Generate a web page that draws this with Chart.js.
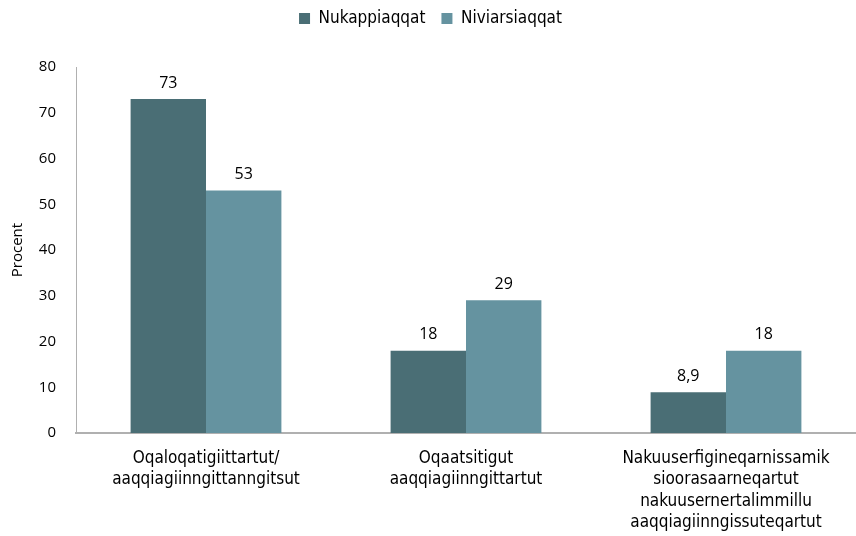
<!DOCTYPE html>
<html>
<head>
<meta charset="utf-8">
<script src="https://cdn.jsdelivr.net/npm/chart.js@4"></script>
<style>
  html, body { margin: 0; padding: 0; background: #fff; }
  #wrap { width: 856px; height: 536px; }
</style>
</head>
<body>
<div id="wrap"><canvas id="myChart"></canvas></div>
<script>
'use strict';

var categories = [
  ['Oqaloqatigiittartut/', 'aaqqiagiinngittanngitsut'],
  ['Oqaatsitigut', 'aaqqiagiinngittartut'],
  ['Nakuuserfigineqarnissamik', 'sioorasaarneqartut', 'nakuusernertalimmillu', 'aaqqiagiinngissuteqartut']
];
var nukappiaqqat = [73, 18, 8.9];
var niviarsiaqqat = [53, 29, 18];
var yTicks = [0, 10, 20, 30, 40, 50, 60, 70, 80];

var condensed = '"Liberation Sans Narrow", "DejaVu Sans Condensed", sans-serif';

// labels above the bars
var valueLabels = {
  id: 'valueLabels',
  afterDatasetsDraw: function (chart) {
    var ctx = chart.ctx;
    ctx.save();
    ctx.font = '16px "Open Sans", sans-serif';
    ctx.fillStyle = '#000';
    ctx.textAlign = 'center';
    ctx.textBaseline = 'bottom';
    chart.data.datasets.forEach(function (ds, i) {
      chart.getDatasetMeta(i).data.forEach(function (bar, j) {
        var txt = String(ds.data[j]).replace('.', ',');
        ctx.fillText(txt, bar.x, bar.y - 8);
      });
    });
    ctx.restore();
  }
};

// extra room below the legend
var legendGap = {
  id: 'legendGap',
  beforeInit: function (chart) {
    var fit = chart.legend.fit;
    chart.legend.fit = function () {
      fit.call(this);
      this.height += 30;
    };
  }
};

var ctx = document.getElementById('myChart').getContext('2d');
new Chart(ctx, {
  type: 'bar',
  data: {
    labels: categories,
    datasets: [{
      label: 'Nukappiaqqat',
      data: nukappiaqqat,
      backgroundColor: '#4a6e75',
      categoryPercentage: 0.58,
      barPercentage: 1.0
    }, {
      label: 'Niviarsiaqqat',
      data: niviarsiaqqat,
      backgroundColor: '#6593a0',
      categoryPercentage: 0.58,
      barPercentage: 1.0
    }]
  },
  options: {
    responsive: true,
    maintainAspectRatio: false,
    animation: false,
    layout: { padding: { top: -6, right: 0, left: 5, bottom: -12 } },
    plugins: {
      legend: {
        position: 'top',
        labels: {
          boxWidth: 11,
          boxHeight: 11,
          padding: 16,
          color: '#000',
          font: { family: condensed, size: 17 }
        }
      },
      tooltip: { enabled: false }
    },
    scales: {
      x: {
        grid: { display: false, drawTicks: false },
        border: { color: '#b0b0b0', width: 2 },
        ticks: {
          color: '#000',
          padding: 15,
          maxRotation: 0,
          autoSkip: false,
          font: { family: condensed, size: 17, lineHeight: 1.25 }
        }
      },
      y: {
        min: 0,
        max: 80,
        afterBuildTicks: function (axis) {
          axis.ticks = yTicks.map(function (v) { return { value: v }; });
        },
        afterFit: function (axis) {
          axis.width = 71;
        },
        grid: { display: false, drawTicks: false },
        border: { color: '#b0b0b0', width: 1 },
        title: {
          display: true,
          text: 'Procent',
          color: '#000',
          font: { family: '"Open Sans", sans-serif', size: 15 }
        },
        ticks: {
          color: '#000',
          padding: 20,
          font: { family: '"Open Sans", sans-serif', size: 15 }
        }
      }
    }
  },
  plugins: [valueLabels, legendGap]
});
</script>
</body>
</html>
